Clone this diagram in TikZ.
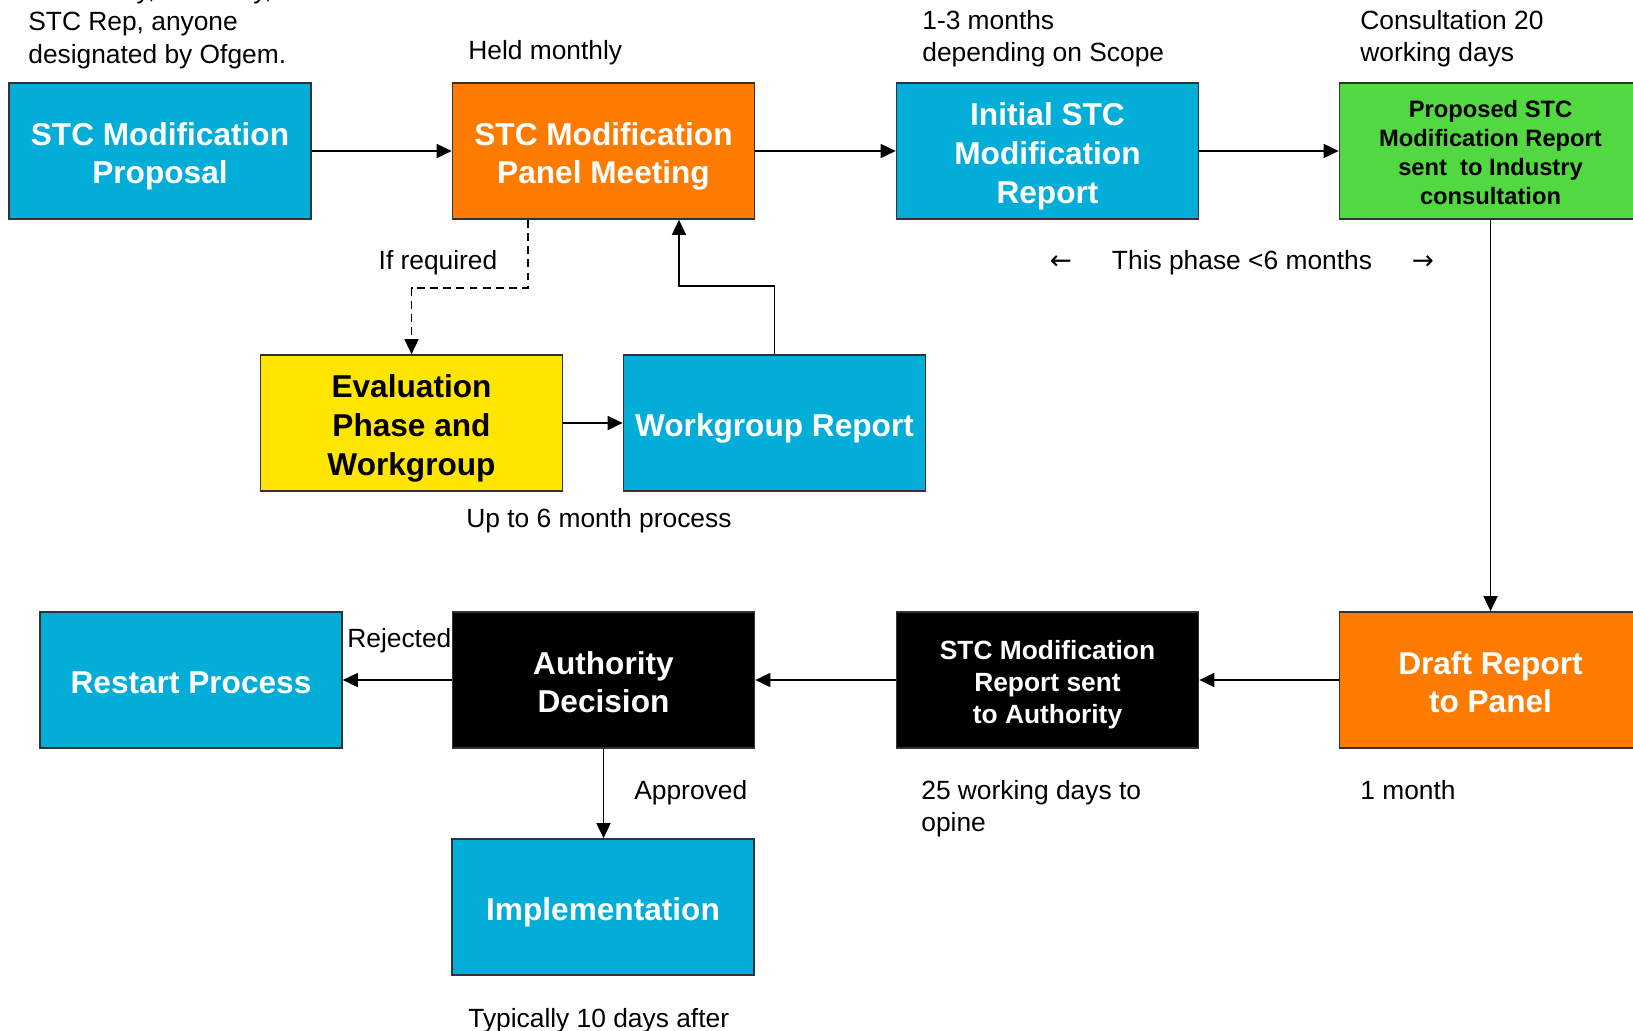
\documentclass[tikz,border=0pt]{standalone}
\usepackage{fontspec}
\setmainfont{Liberation Sans}
\newfontfamily\arrowfont{DejaVu Sans}
\usetikzlibrary{arrows.meta}
\definecolor{stcblue}{RGB}{2,174,216}
\definecolor{stcorange}{RGB}{255,123,0}
\definecolor{stcgreen}{RGB}{82,216,64}
\definecolor{stcyellow}{RGB}{255,229,0}
\newcommand{\topgap}{\rule{0pt}{1.11em}}

\begin{document}
\begin{tikzpicture}[
		x=0.02cm, y=-0.02cm,
		stage/.style={draw=black!80, line width=1pt, minimum width=6.04cm, minimum height=2.72cm,
			align=center, inner sep=2pt, font=\fontsize{18}{22}\selectfont\bfseries, text=white,
			execute at end node={\rule[-0.25em]{0pt}{0pt}}},
		bluebox/.style={stage, fill=stcblue},
		orangebox/.style={stage, fill=stcorange},
		greenbox/.style={stage, fill=stcgreen, text=black, font=\fontsize{13.5}{16.4}\selectfont\bfseries},
		yellowbox/.style={stage, fill=stcyellow, text=black},
		blackbox/.style={stage, fill=black},
		flow/.style={line width=1pt, -{Triangle[length=0.3cm, width=0.28cm]}},
		note/.style={font=\fontsize{15}{18.4}\selectfont, align=left, inner sep=0pt},
	]
		\useasboundingbox[fill=white] (0,0) rectangle (1633,1031);

		\node[bluebox] (proposal) at (160,151) {\topgap STC Modification\\Proposal};
		\node[orangebox] (panel) at (603.5,151) {\topgap STC Modification\\Panel Meeting};
		\node[bluebox] (initial) at (1047.5,151) {\topgap Initial STC\\Modification\\Report};
		\node[greenbox] (consult) at (1490.5,151) {\topgap Proposed STC\\Modification Report\\sent\ \ to Industry\\consultation};
		\node[yellowbox] (eval) at (411.5,423) {\topgap Evaluation\\Phase and\\Workgroup};
		\node[bluebox] (workgroup) at (774.5,423) {\topgap Workgroup Report};
		\node[bluebox] (restart) at (191,680) {\topgap Restart Process};
		\node[blackbox] (decision) at (603.5,680) {\topgap Authority\\Decision};
		\node[blackbox, font=\fontsize{15}{18.4}\selectfont\bfseries] (toauthority) at (1047.5,680) {\topgap STC Modification\\Report sent\\to Authority};
		\node[orangebox] (draft) at (1490.5,680) {\topgap Draft Report\\to Panel};
		\node[bluebox] (implement) at (603,907) {\topgap Implementation};

		\draw[flow] (proposal) -- (panel);
		\draw[flow] (panel) -- (initial);
		\draw[flow] (initial) -- (consult);
		\draw[flow] (consult) -- (draft);
		\draw[flow] (draft) -- (toauthority);
		\draw[flow] (toauthority) -- (decision);
		\draw[flow] (decision) -- (restart);
		\draw[flow] (decision.south) -- (decision.south |- implement.north);
		\draw[flow] (eval) -- (workgroup);
		\draw[flow, dash pattern=on 4.5pt off 3pt] ([xshift=-1.51cm]panel.south) -- ++(0,68) -| (eval.north);
		\draw[flow] (workgroup.north) -- ++(0,-68) -| ([xshift=1.51cm]panel.south);

		\node[note, anchor=west] (whoraises) at (28,24) {STC Party, Authority,\\STC Rep, anyone\\designated by Ofgem.};
		\node[note, anchor=base west] (monthly) at (468,59.5) {Held monthly};
		\node[note, anchor=west] (scope) at (922,39) {1-3 months\\depending on Scope};
		\node[note, anchor=west] (consultdays) at (1360,39) {Consultation 20\\working days};
		\node[note, anchor=base] (ifreq) at (438,269.5) {If required};
		\node[note, anchor=base] (phase) at (1242,269.5) {This phase <6 months};
		\node[note, anchor=base] (leftmark) at (1061,269.5) {\arrowfont ←};
		\node[note, anchor=base] (rightmark) at (1423,269.5) {\arrowfont →};
		\node[note, anchor=base west] (uptosix) at (466,527.5) {Up to 6 month process};
		\node[note, anchor=base west] (rejected) at (347,647.5) {Rejected};
		\node[note, anchor=base west] (approved) at (634,799.5) {Approved};
		\node[note, anchor=west] (opine) at (921,809) {25 working days to\\opine};
		\node[note, anchor=base west] (onemonth) at (1360,799.5) {1 month};
		\node[note, anchor=base west] (typically) at (468,1027.5) {Typically 10 days after};
	\end{tikzpicture}
\end{document}
